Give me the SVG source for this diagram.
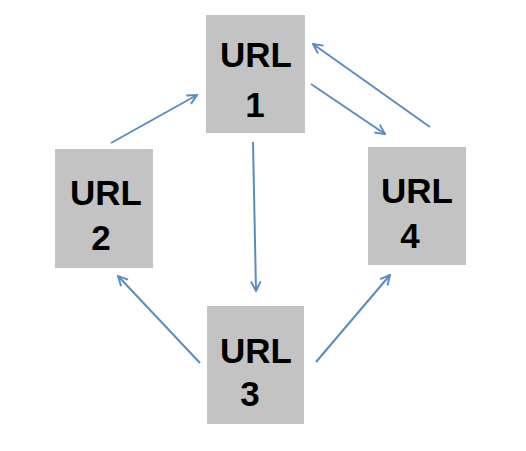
<svg xmlns="http://www.w3.org/2000/svg" width="526" height="451" viewBox="0 0 526 451">
<style>
.box{fill:#c3c3c3}
.t{font-family:"Liberation Sans",Arial,sans-serif;font-weight:bold;font-size:35px;fill:#000;text-anchor:middle}
.c{stroke:#5b8cc0;stroke-width:2;fill:none;marker-end:url(#ah)}
</style>
<defs>
<marker id="ah" viewBox="0 0 10 10" refX="9" refY="5" markerWidth="6" markerHeight="6" orient="auto" markerUnits="strokeWidth">
<path d="M1,1 L9,5 L1,9" fill="none" stroke="#5b8cc0" stroke-width="1.6" stroke-linejoin="miter"/>
</marker>
</defs>
<rect width="526" height="451" fill="#fff"/>
<g id="connectors">
<line class="c" x1="111" y1="143" x2="197" y2="95"/>
<line class="c" x1="253" y1="142" x2="256" y2="291"/>
<line class="c" x1="311" y1="84" x2="385" y2="134"/>
<line class="c" x1="430" y1="127" x2="313" y2="44"/>
<line class="c" x1="200" y1="363" x2="118" y2="276"/>
<line class="c" x1="316" y1="362" x2="390" y2="275"/>
</g>
<g id="url1">
<rect class="box" x="206" y="15" width="99" height="118"/>
<text class="t" x="256" y="67">URL</text>
<text class="t" x="255" y="117">1</text>
</g>
<g id="url2">
<rect class="box" x="55" y="149" width="98" height="119"/>
<text class="t" x="106" y="205">URL</text>
<text class="t" x="101" y="250">2</text>
</g>
<g id="url4">
<rect class="box" x="368" y="147" width="98" height="118"/>
<text class="t" x="417" y="203">URL</text>
<text class="t" x="410" y="248">4</text>
</g>
<g id="url3">
<rect class="box" x="207" y="306" width="97" height="118"/>
<text class="t" x="256" y="363">URL</text>
<text class="t" x="250" y="406">3</text>
</g>
</svg>
